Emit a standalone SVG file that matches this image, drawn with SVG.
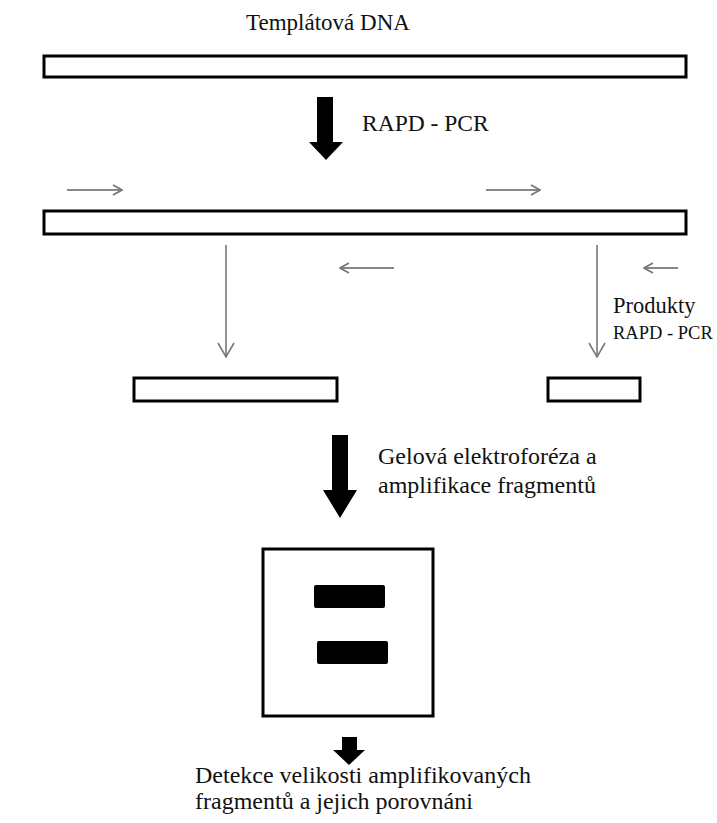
<svg xmlns="http://www.w3.org/2000/svg" width="717" height="823" viewBox="0 0 717 823">
  <style>
    .t { fill: #111; }
    .strand { fill: #fff; stroke: #000; stroke-width: 3; }
    .primer { stroke: #888; stroke-width: 2; fill: none; }
    .thin { stroke: #777; stroke-width: 1.6; fill: none; }
    .big { fill: #000; }
  </style>
  <defs>
    <marker id="chev" viewBox="0 0 12 12" refX="11" refY="6" markerWidth="12" markerHeight="12" markerUnits="userSpaceOnUse" orient="auto">
      <path d="M2,1 L11,6 L2,11" fill="none" stroke="#777" stroke-width="1.8"/>
    </marker>
    <marker id="chevDown" viewBox="0 0 18 18" refX="16" refY="9" markerWidth="18" markerHeight="18" markerUnits="userSpaceOnUse" orient="auto">
      <path d="M2,1 L16,9 L2,17" fill="none" stroke="#777" stroke-width="1.6"/>
    </marker>
  </defs>
  <rect width="717" height="823" fill="#fff"/>

  <g font-family="'Liberation Serif', 'DejaVu Serif', serif">
  <!-- template DNA -->
  <g id="template">
    <text class="t" x="328" y="30" font-size="23" text-anchor="middle">Templátová DNA</text>
    <rect class="strand" x="44" y="56" width="642" height="21"/>
  </g>

  <!-- template with bound primers -->
  <g id="template-primed">
    <rect class="strand" x="44" y="211" width="642" height="23"/>
  </g>

  <!-- amplified products -->
  <g id="product-long">
    <rect class="strand" x="134" y="378" width="203" height="23"/>
  </g>
  <g id="product-short">
    <rect class="strand" x="548" y="378" width="92" height="23"/>
  </g>
  <g id="products-label">
    <text class="t" x="613" y="313" font-size="22.5">Produkty</text>
    <text class="t" x="613" y="339" font-size="18.5">RAPD - PCR</text>
  </g>

  <!-- gel -->
  <g id="gel">
    <rect x="263" y="549" width="170" height="167" fill="#fff" stroke="#000" stroke-width="3"/>
    <rect x="314" y="585" width="71" height="23" rx="2" fill="#000"/>
    <rect x="317" y="641" width="71" height="23" rx="2" fill="#000"/>
  </g>

  <g id="detection">
    <text class="t" x="195" y="783" font-size="24">Detekce velikosti amplifikovaných</text>
    <text class="t" x="195" y="809" font-size="24">fragmentů a jejich porovnáni</text>
  </g>

  <g id="connectors">
    <!-- RAPD-PCR step -->
    <polygon class="big" points="317,97 333,97 333,142 343,142 326,160 309,142 317,142"/>
    <text class="t" x="362" y="131" font-size="23.5">RAPD - PCR</text>

    <!-- primers -->
    <line class="primer" x1="67" y1="190" x2="122" y2="190" marker-end="url(#chev)"/>
    <line class="primer" x1="486" y1="190" x2="540" y2="190" marker-end="url(#chev)"/>
    <line class="primer" x1="394" y1="268" x2="340" y2="268" marker-end="url(#chev)"/>
    <line class="primer" x1="678" y1="268" x2="644" y2="268" marker-end="url(#chev)"/>

    <!-- product formation -->
    <line class="thin" x1="226" y1="245" x2="226" y2="357" marker-end="url(#chevDown)"/>
    <line class="thin" x1="597" y1="245" x2="597" y2="357" marker-end="url(#chevDown)"/>

    <!-- electrophoresis step -->
    <polygon class="big" points="332,435 348,435 348,490 357,490 340,518 323,490 332,490"/>
    <text class="t" x="378" y="464" font-size="24">Gelová elektroforéza a</text>
    <text class="t" x="378" y="493" font-size="24">amplifikace fragmentů</text>

    <!-- detection step -->
    <polygon class="big" points="342,737 357,737 357,750 365,750 349,765 333,750 342,750"/>
  </g>
  </g>
</svg>
